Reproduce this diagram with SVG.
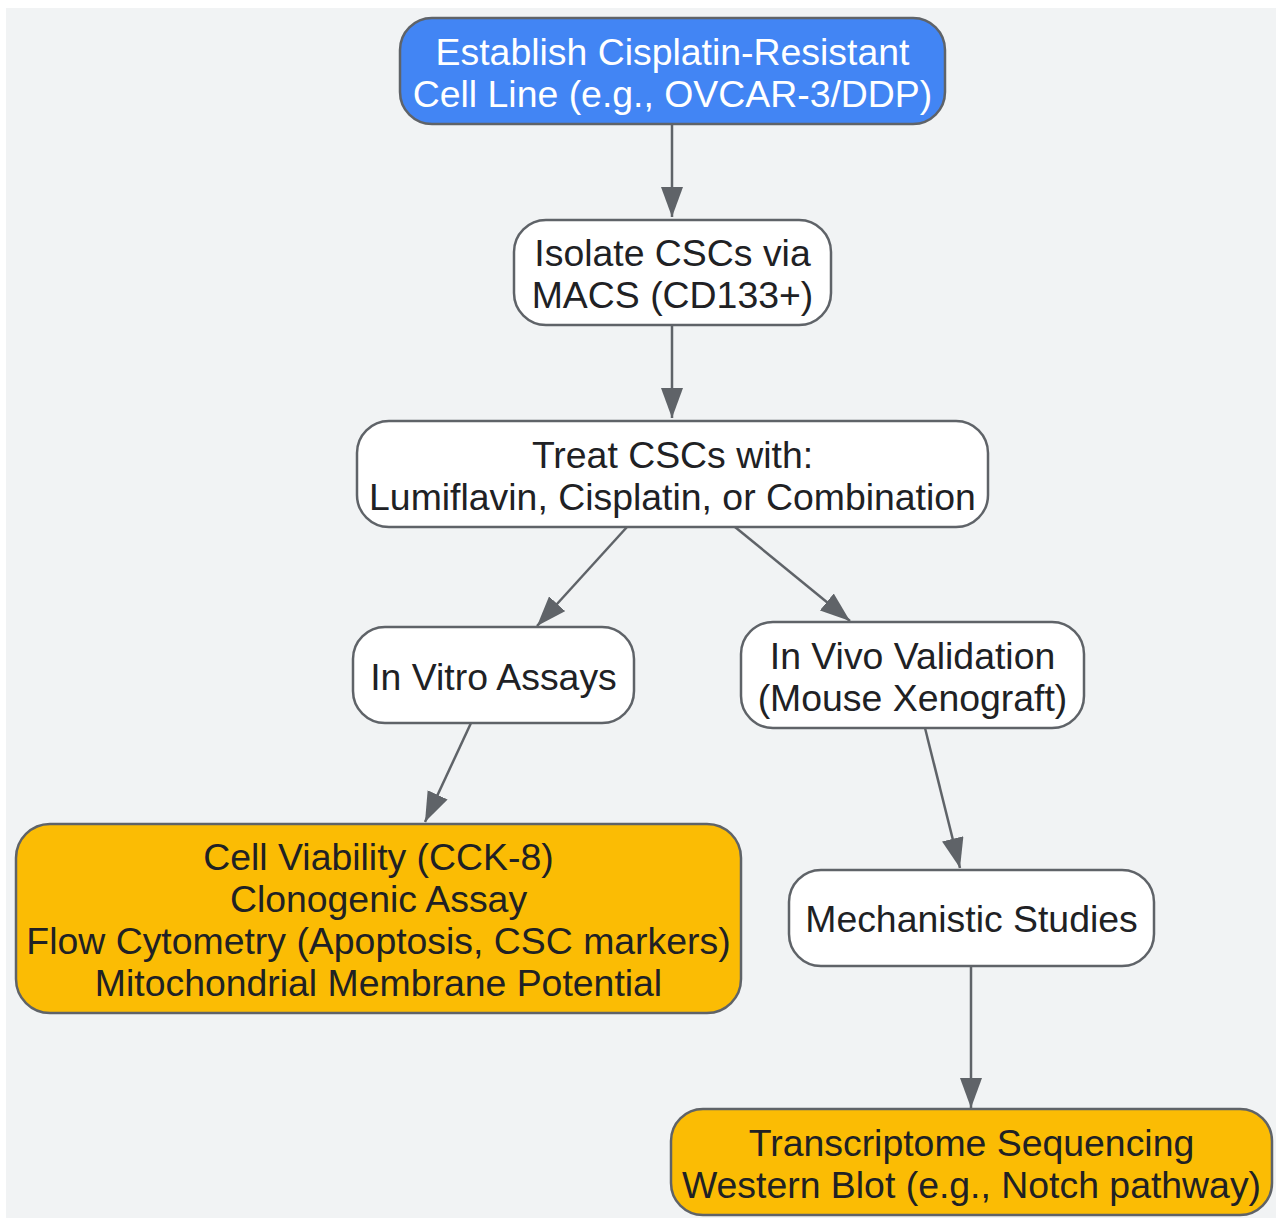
<svg xmlns="http://www.w3.org/2000/svg" width="1276" height="1218" viewBox="0 0 1276 1218">
<defs>
<style>
.node rect{stroke:#5f6368;stroke-width:2.5}
.w rect{fill:#ffffff}
.b rect{fill:#4285f4}
.y rect{fill:#fbbc04}
text{font-family:"Liberation Sans",Arial,sans-serif;font-size:37.4px;text-anchor:middle;fill:#202124}
.b text{fill:#ffffff}
.edges line{stroke:#5f6368;stroke-width:2.5;fill:none;marker-end:url(#arr)}
</style>
<marker id="arr" markerUnits="userSpaceOnUse" markerWidth="30" markerHeight="22" refX="30" refY="11" orient="auto">
<path d="M0,0 L30,11 L0,22 Z" fill="#5f6368"/>
</marker>
</defs>
<rect x="0" y="0" width="1276" height="1218" fill="#ffffff"/>
<rect x="6" y="8" width="1270" height="1210" fill="#f1f3f4"/>
<g class="edges">
<line x1="672" y1="124" x2="672" y2="217"/>
<line x1="672" y1="325" x2="672" y2="418"/>
<line x1="627" y1="527" x2="537" y2="626"/>
<line x1="735" y1="527" x2="850" y2="621"/>
<line x1="471" y1="723" x2="425" y2="822"/>
<line x1="925" y1="728" x2="960" y2="868"/>
<line x1="971" y1="967" x2="971" y2="1108"/>
</g>
<g id="n1" class="node b">
<rect x="400" y="18" width="545" height="106" rx="32"/>
<text x="672.5" y="65">Establish Cisplatin-Resistant</text>
<text x="672.5" y="107">Cell Line (e.g., OVCAR-3/DDP)</text>
</g>
<g id="n2" class="node w">
<rect x="514" y="220" width="317" height="105" rx="32"/>
<text x="672.5" y="266">Isolate CSCs via</text>
<text x="672.5" y="308">MACS (CD133+)</text>
</g>
<g id="n3" class="node w">
<rect x="357" y="421" width="631" height="106" rx="32"/>
<text x="672.5" y="468">Treat CSCs with:</text>
<text x="672.5" y="510">Lumiflavin, Cisplatin, or Combination</text>
</g>
<g id="n4" class="node w">
<rect x="353" y="627" width="281" height="96" rx="32"/>
<text x="493.5" y="690">In Vitro Assays</text>
</g>
<g id="n5" class="node w">
<rect x="741" y="622" width="343" height="106" rx="32"/>
<text x="912.5" y="669">In Vivo Validation</text>
<text x="912.5" y="711">(Mouse Xenograft)</text>
</g>
<g id="n6" class="node y">
<rect x="16" y="824" width="725" height="189" rx="34"/>
<text x="378.5" y="870">Cell Viability (CCK-8)</text>
<text x="378.5" y="912">Clonogenic Assay</text>
<text x="378.5" y="954">Flow Cytometry (Apoptosis, CSC markers)</text>
<text x="378.5" y="996">Mitochondrial Membrane Potential</text>
</g>
<g id="n7" class="node w">
<rect x="789" y="870" width="365" height="96" rx="32"/>
<text x="971.5" y="932">Mechanistic Studies</text>
</g>
<g id="n8" class="node y">
<rect x="671" y="1109" width="601" height="106" rx="32"/>
<text x="971.5" y="1156">Transcriptome Sequencing</text>
<text x="971.5" y="1198">Western Blot (e.g., Notch pathway)</text>
</g>
</svg>
